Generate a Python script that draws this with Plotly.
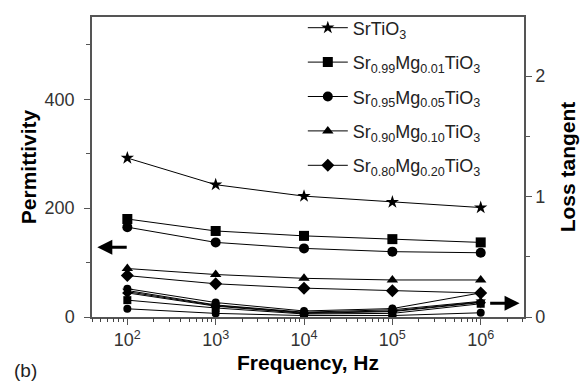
import plotly.graph_objects as go

freq = [1e2, 1e3, 1e4, 1e5, 1e6]
x_tick_labels = ["10<sup>2</sup>", "10<sup>3</sup>", "10<sup>4</sup>", "10<sup>5</sup>", "10<sup>6</sup>"]

names = ["SrTiO<sub>3</sub>",
         "Sr<sub>0.99</sub>Mg<sub>0.01</sub>TiO<sub>3</sub>",
         "Sr<sub>0.95</sub>Mg<sub>0.05</sub>TiO<sub>3</sub>",
         "Sr<sub>0.90</sub>Mg<sub>0.10</sub>TiO<sub>3</sub>",
         "Sr<sub>0.80</sub>Mg<sub>0.20</sub>TiO<sub>3</sub>"]
symbols = ["star", "square", "circle", "triangle-up", "diamond"]

# Permittivity (left axis)
perm_SrTiO3 = [292, 243, 222, 211, 201]
perm_Mg001 = [180, 158, 149, 143, 137]
perm_Mg005 = [165, 137, 126, 120, 118]
perm_Mg010 = [89, 78, 71, 68, 68]
perm_Mg020 = [76, 61, 53, 48, 44]
perm = [perm_SrTiO3, perm_Mg001, perm_Mg005, perm_Mg010, perm_Mg020]

# Loss tangent (right axis)
tan_A = [0.235, 0.12, 0.05, 0.07, 0.20]
tan_SrTiO3 = [0.22, 0.10, 0.04, 0.06, 0.13]
tan_Mg010 = [0.21, 0.095, 0.035, 0.05, 0.125]
tan_Mg020 = [0.20, 0.09, 0.03, 0.045, 0.12]
tan_Mg001 = [0.14, 0.075, 0.025, 0.03, 0.11]
tan_B = [0.068, 0.03, 0.012, 0.012, 0.035]
tans = [tan_A, tan_SrTiO3, tan_Mg010, tan_Mg020, tan_Mg001, tan_B]
tan_symbols = ["circle", "star", "triangle-up", "diamond", "square", "circle"]

# minor tick positions on the log axis (2..9 in each decade)
minor_x = [m * 10 ** d for d in range(1, 7) for m in range(2, 10)]

XRANGE = [1.60, 6.49]

fig = go.Figure()
for i, (n, s, p) in enumerate(zip(names, symbols, perm)):
    fig.add_trace(go.Scatter(x=freq, y=p, name=n, mode="lines+markers",
                             legendgroup="g%d" % i,
                             line=dict(color="black", width=1),
                             marker=dict(symbol=s, size=10, color="black")))
for j, (s, t) in enumerate(zip(tan_symbols, tans)):
    fig.add_trace(go.Scatter(x=freq, y=t, yaxis="y2",
                             xaxis="x2" if j == 0 else "x",
                             mode="lines+markers", showlegend=False,
                             line=dict(color="black", width=1),
                             marker=dict(symbol=s, size=8, color="black")))

axcol = "#555555"
tickfont = dict(family="Liberation Sans, Arial", size=18, color="#333333")
titlefont = dict(family="Liberation Sans, Arial", size=21, color="black")
fig.update_layout(
    width=586, height=386,
    margin=dict(l=92, r=60, t=10, b=69),
    paper_bgcolor="white", plot_bgcolor="white",
    font=dict(family="Liberation Sans, Arial", color="black"),
    xaxis=dict(type="log", range=XRANGE,
               tickmode="array", tickvals=freq, ticktext=x_tick_labels,
               ticks="outside", ticklen=6, tickcolor=axcol,
               showline=True, linecolor=axcol, linewidth=1.5, mirror=True,
               showgrid=False, zeroline=False, tickfont=tickfont,
               title=dict(text="<b>Frequency, Hz</b>", font=titlefont, standoff=6)),
    xaxis2=dict(type="log", range=XRANGE, overlaying="x", anchor="y2", side="bottom",
                tickmode="array", tickvals=minor_x, ticktext=[""] * len(minor_x),
                showticklabels=True,
                ticks="outside", ticklen=4, tickwidth=1, tickcolor="#444444",
                showline=False, showgrid=False, zeroline=False),
    yaxis=dict(range=[0, 551], tickvals=[0, 200, 400],
               ticks="outside", ticklen=6, tickcolor=axcol, ticklabelstandoff=6,
               showline=True, linecolor=axcol, linewidth=1.5,
               showgrid=False, zeroline=False, tickfont=tickfont,
               minor=dict(tickvals=[100, 300, 500], ticks="outside", ticklen=4, tickcolor=axcol),
               title=dict(text="<b>Permittivity</b>", font=titlefont, standoff=2)),
    yaxis2=dict(range=[0, 2.49], overlaying="y", side="right", tickvals=[0, 1, 2],
                ticks="outside", ticklen=6, tickcolor=axcol,
                showline=True, linecolor=axcol, linewidth=1.5,
                showgrid=False, zeroline=False, tickfont=tickfont,
                minor=dict(tickvals=[0.5, 1.5], ticks="outside", ticklen=4, tickcolor=axcol),
                title=dict(text="<b>Loss tangent</b>", font=titlefont, standoff=16)),
    legend=dict(x=0.488, y=1.025, xanchor="left", yanchor="top",
                bgcolor="rgba(0,0,0,0)",
                font=dict(family="Liberation Sans, Arial", size=18, color="#222222"),
                itemwidth=40, tracegroupgap=8),
    showlegend=True,
)

fig.add_annotation(x=1.66, y=128, ax=2.01, ay=128, xref="x", yref="y",
                   axref="x", ayref="y", showarrow=True, arrowhead=2,
                   arrowsize=1, arrowwidth=3, arrowcolor="black", text="")
fig.add_annotation(x=6.44, y=0.114, ax=6.09, ay=0.114, xref="x", yref="y2",
                   axref="x", ayref="y2", showarrow=True, arrowhead=2,
                   arrowsize=1, arrowwidth=3, arrowcolor="black", text="")
fig.add_annotation(x=-0.186, y=-0.179, xref="paper", yref="paper", xanchor="left", yanchor="middle",
                   text="(b)", showarrow=False,
                   font=dict(family="Liberation Sans, Arial", size=19, color="#222222"))

fig.write_html("out.html")
